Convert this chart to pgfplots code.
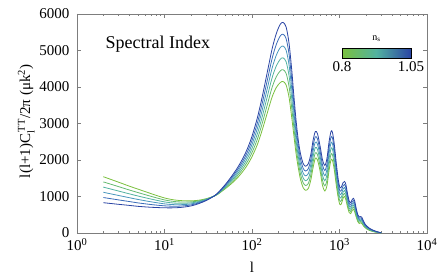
\documentclass[border=0pt]{standalone}
\usepackage{amsmath}
\usepackage{pgfplots}
\pgfplotsset{compat=1.18}
\usepackage{pgfplotstable}
\usepackage{fontspec}
\setmainfont{Liberation Serif}

\definecolor{k0}{RGB}{122,192,62}
\definecolor{k1}{RGB}{100,186,112}
\definecolor{k2}{RGB}{82,178,160}
\definecolor{k3}{RGB}{72,150,188}
\definecolor{k4}{RGB}{58,108,184}
\definecolor{k5}{RGB}{42,68,164}
\definecolor{axgray}{RGB}{125,125,125}

\pgfplotstableread{
l c0 c1 c2 c3 c4 c5
2 1542 1400 1257 1115 972 830
3 1390 1269 1148 1027 906 785
4 1280 1175 1070 965 860 755
5 1200 1106 1012 918 824 730
7 1080 1005 930 855 780 705
10 960 906 852 798 744 690
13 905 862 819 776 733 690
16 885 849 813 777 741 705
20 880 852 824 796 768 740
25 900 882 864 846 828 810
30 940 930 920 910 900 890
35 990 988 986 984 982 980
40 1050 1056 1062 1068 1074 1080
50 1220 1244 1268 1292 1316 1340
60 1380 1422 1464 1506 1548 1590
70 1540 1598 1656 1714 1772 1830
80 1710 1784 1858 1932 2006 2080
90 1890 1982 2074 2166 2258 2350
100 2090 2202 2314 2426 2538 2650
115 2420 2566 2712 2858 3004 3150
130 2800 2980 3160 3340 3520 3700
150 3300 3524 3748 3972 4196 4420
170 3730 3994 4258 4522 4786 5050
190 3990 4286 4582 4878 5174 5470
210 4120 4439 4758 5077 5396 5715
226 4150 4474 4798 5122 5446 5770
245 4060 4378 4696 5014 5332 5650
265 3720 4016 4312 4608 4904 5200
285 3150 3410 3670 3930 4190 4450
300 2700 2920 3140 3360 3580 3800
320 2150 2330 2510 2690 2870 3050
340 1750 1900 2050 2200 2350 2500
360 1450 1590 1730 1870 2010 2150
385 1240 1372 1504 1636 1768 1900
410 1170 1302 1434 1566 1698 1830
440 1220 1356 1492 1628 1764 1900
470 1450 1590 1730 1870 2010 2150
500 1800 1950 2100 2250 2400 2550
530 2050 2196 2342 2488 2634 2780
560 2000 2144 2288 2432 2576 2720
600 1700 1836 1972 2108 2244 2380
640 1300 1440 1580 1720 1860 2000
680 1150 1290 1430 1570 1710 1850
720 1300 1450 1600 1750 1900 2050
760 1720 1876 2032 2188 2344 2500
800 2000 2156 2312 2468 2624 2780
830 1990 2144 2298 2452 2606 2760
870 1750 1890 2030 2170 2310 2450
920 1300 1420 1540 1660 1780 1900
970 950 1050 1150 1250 1350 1450
1010 780 874 968 1062 1156 1250
1050 800 892 984 1076 1168 1260
1100 950 1036 1122 1208 1294 1380
1140 1000 1082 1164 1246 1328 1410
1180 920 1004 1088 1172 1256 1340
1230 730 804 878 952 1026 1100
1290 560 624 688 752 816 880
1340 530 590 650 710 770 830
1400 620 680 740 800 860 920
1440 650 710 770 830 890 950
1490 580 640 700 760 820 880
1560 420 466 512 558 604 650
1620 310 348 386 424 462 500
1680 260 296 332 368 404 440
1750 280 314 348 382 416 450
1800 260 294 328 362 396 430
1870 200 228 256 284 312 340
1950 150 170 190 210 230 250
2050 110 126 142 158 174 190
2200 70 82 94 106 118 130
2400 40 48 56 64 72 80
2700 15 19 23 27 31 35
3000 2 3 3 4 4 5
}\cmbdata

\begin{document}
\begin{tikzpicture}
\begin{axis}[
  scale only axis, width=350pt, height=219pt,
  clip=false,
  xmode=log, xmin=1, xmax=10000, ymin=0, ymax=6000,
  xtick={1,10,100,1000,10000},
  xticklabels={10\textsuperscript{0},10\textsuperscript{1},10\textsuperscript{2},10\textsuperscript{3},10\textsuperscript{4}},
  ytick={0,1000,2000,3000,4000,5000,6000},
  scaled y ticks=false,
  /pgf/number format/assume math mode=true,
  /pgf/number format/1000 sep={},
  tick label style={font=\fontsize{15}{18}\selectfont},
  yticklabel style={xshift=-4pt},
  xticklabel style={yshift=-2pt},
  axis line style={draw=axgray, line width=0.8pt},
  tick style={axgray, line width=0.6pt},
  tick align=inside, major tick length=4pt, minor tick length=2.2pt,
  xlabel={l},
  xlabel style={font=\fontsize{15}{18}\selectfont, at={(rel axis cs:0.5,-0.155)}, anchor=center},
  ylabel={l(l+1)C$_{\text{l}}^{\,\text{TT}}$/2π (μk$^{\text{2}}$)},
  ylabel style={font=\fontsize{15}{18}\selectfont, at={(rel axis cs:-0.145,0.51)}, anchor=center},
  colorbar horizontal,
  colormap={ns}{rgb255=(122,192,62) rgb255=(82,178,160) rgb255=(42,68,164)},
  point meta min=0.8, point meta max=1.05,
  colorbar style={
    at={(parent axis.north east)}, anchor=north east,
    xshift=-16pt, yshift=-26pt,
    scale only axis, width=69pt, height=10pt,
    xtick={0.8,1.05}, major tick length=0pt,
    xticklabel style={font=\fontsize{15}{18}\selectfont, yshift=1pt},
    /pgf/number format/assume math mode=true,
    axis line style={black, line width=0.6pt},
    title={n\textsubscript{s}},
    title style={font=\fontsize{10}{12}\selectfont, yshift=-3pt},
  },
  every axis plot/.append style={line width=0.8pt, smooth},
]
\addplot[k0] table[x=l, y=c0] {\cmbdata};
\addplot[k1] table[x=l, y=c1] {\cmbdata};
\addplot[k2] table[x=l, y=c2] {\cmbdata};
\addplot[k3] table[x=l, y=c3] {\cmbdata};
\addplot[k4] table[x=l, y=c4] {\cmbdata};
\addplot[k5] table[x=l, y=c5] {\cmbdata};
\node[font=\fontsize{18}{21}\selectfont, anchor=center] at (rel axis cs:0.231,0.863) {Spectral Index};
\path (rel axis cs:-0.22,-0.1918) rectangle (rel axis cs:1.06,1.0639);
\end{axis}
\end{tikzpicture}
\end{document}
